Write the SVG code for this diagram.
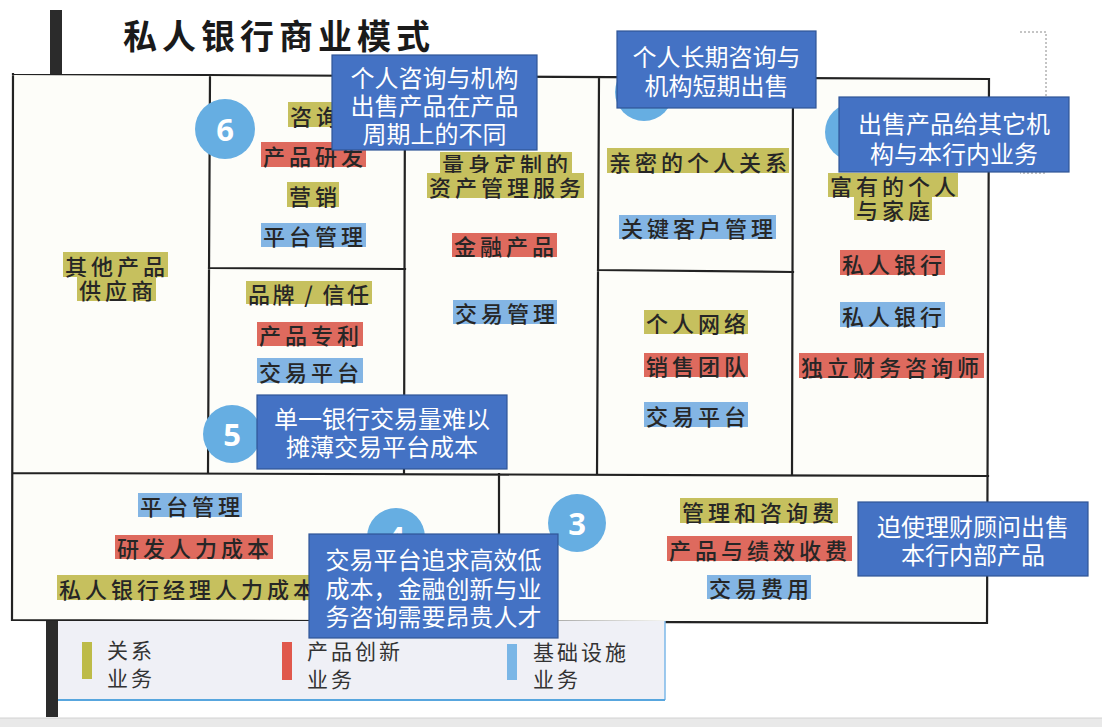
<svg xmlns="http://www.w3.org/2000/svg" width="1102" height="727" viewBox="0 0 1102 727">
<style>
.t{font-family:"Noto Sans CJK SC","Noto Sans",sans-serif;font-size:22px;letter-spacing:4px;fill:#262626;dominant-baseline:central;font-weight:500}
.o{fill:#c6c05e}
.r{fill:#de6a5e}
.b{fill:#83b5e4}
.ln{stroke:#222;stroke-width:2.2;fill:none;stroke-linecap:square}
.cir{fill:#66aee2}
.num{font-family:"Open Sans","Liberation Sans",sans-serif;font-size:31px;font-weight:700;fill:#fff;text-anchor:middle;dominant-baseline:central}
.cb{fill:#4472c4;stroke:#2f5597;stroke-width:1.2}
.ct{font-family:"Noto Sans CJK SC","Noto Sans",sans-serif;font-size:24px;fill:#fff;text-anchor:middle;dominant-baseline:central}
.lg{font-family:"Noto Sans CJK SC","Noto Sans",sans-serif;font-size:21px;letter-spacing:3px;fill:#333;dominant-baseline:central}
</style>
<rect width="1102" height="727" fill="#ffffff"/>
<rect x="0" y="718" width="1102" height="9" fill="#e9e9e9"/>
<line x1="0" y1="718" x2="1102" y2="718" stroke="#d2d2d2" stroke-width="1"/>

<g id="title">
<rect x="50" y="10" width="12" height="64" fill="#2b2b2b"/>
<text x="123" y="34" font-family="Noto Sans CJK SC, sans-serif" font-size="34" font-weight="700" letter-spacing="5" fill="#1a1a1a" dominant-baseline="central">私人银行商业模式</text>
</g>

<g id="canvas">
<polygon points="13,74 989,79 987,623 12,620" fill="#fdfdf9"/>
<path class="ln" d="M13,74 L989,79 M13,473 L988,476 M12,620 L987,623 M13,74 L12,620 M210,75 L208,473 M405,76 L404,474 M599,77 L597,475 M793,78 L792,475 M989,79 L987,623 M209,268 L405,269 M598,270 L793,272 M499,474 L499,621"/>
</g>

<g id="legend">
<rect x="58" y="621" width="607" height="79" fill="#eff0f6"/>
<line x1="665" y1="621" x2="665" y2="700" stroke="#7db9e8" stroke-width="1.5"/>
<line x1="58" y1="700" x2="665" y2="700" stroke="#58a6de" stroke-width="2"/>
<rect x="46" y="621" width="12" height="96" fill="#2b2b2b"/>
<rect x="82" y="642" width="10" height="37" fill="#bdbb48"/>
<text class="lg" x="107" y="649">关系</text>
<text class="lg" x="107" y="677">业务</text>
<rect x="282" y="642" width="10" height="38" fill="#e0584c"/>
<text class="lg" x="307" y="650">产品创新</text>
<text class="lg" x="307" y="678">业务</text>
<rect x="507" y="644" width="10" height="36" fill="#7ab6e6"/>
<text class="lg" x="533" y="651">基础设施</text>
<text class="lg" x="533" y="678">业务</text>
</g>

<g id="key-partners">
<rect class="o" x="63" y="252" width="105" height="25"/><text class="t" x="65" y="264.5">其他产品</text>
<rect class="o" x="77" y="277" width="79" height="24"/><text class="t" x="79" y="289">供应商</text>
</g>

<g id="key-activities">
<circle class="cir" cx="225" cy="129" r="30"/><text class="num" x="225" y="129">6</text>
<rect class="o" x="288" y="102" width="60" height="25"/><text class="t" x="290" y="114.5">咨询</text>
<rect class="r" x="261" y="142" width="105" height="25"/><text class="t" x="263" y="154.5">产品研发</text>
<rect class="o" x="287" y="182" width="52" height="25"/><text class="t" x="289" y="194.5">营销</text>
<rect class="b" x="261" y="223" width="105" height="24"/><text class="t" x="263" y="235">平台管理</text>
</g>

<g id="key-resources">
<rect class="o" x="246" y="281" width="126" height="23"/><text class="t" x="248" y="292.5" style="letter-spacing:0" textLength="121" lengthAdjust="spacing">品牌 / 信任</text>
<rect class="r" x="257" y="322" width="106" height="24"/><text class="t" x="259" y="334">产品专利</text>
<rect class="b" x="257" y="358" width="106" height="25"/><text class="t" x="259" y="370.5">交易平台</text>
<circle class="cir" cx="232" cy="434" r="29"/><text class="num" x="232" y="434">5</text>
</g>

<g id="value-proposition">
<rect class="o" x="440" y="152" width="132" height="22"/><text class="t" x="442" y="163">量身定制的</text>
<rect class="o" x="427" y="173" width="157" height="25"/><text class="t" x="429" y="185.5">资产管理服务</text>
<rect class="r" x="452" y="233" width="105" height="24"/><text class="t" x="454" y="245">金融产品</text>
<rect class="b" x="453" y="300" width="104" height="24"/><text class="t" x="455" y="312">交易管理</text>
</g>

<g id="customer-relationships">
<circle class="cir" cx="644" cy="92" r="29"/>
<rect class="o" x="607" y="148" width="182" height="25"/><text class="t" x="609" y="160.5">亲密的个人关系</text>
<rect class="b" x="619" y="215" width="157" height="24"/><text class="t" x="621" y="227">关键客户管理</text>
</g>

<g id="channels">
<rect class="o" x="644" y="310" width="104" height="24"/><text class="t" x="646" y="322">个人网络</text>
<rect class="r" x="644" y="353" width="104" height="24"/><text class="t" x="646" y="365">销售团队</text>
<rect class="b" x="644" y="402" width="104" height="25"/><text class="t" x="646" y="414.5">交易平台</text>
</g>

<g id="customer-segments">
<circle class="cir" cx="854" cy="132" r="29"/>
<rect class="o" x="828" y="173" width="130" height="24"/><text class="t" x="830" y="185">富有的个人</text>
<rect class="o" x="854" y="197" width="78" height="23"/><text class="t" x="856" y="208.5">与家庭</text>
<rect class="r" x="840" y="250" width="105" height="25"/><text class="t" x="842" y="262.5">私人银行</text>
<rect class="b" x="840" y="302" width="105" height="25"/><text class="t" x="842" y="314.5">私人银行</text>
<rect class="r" x="799" y="353" width="185" height="25"/><text class="t" x="801" y="365.5">独立财务咨询师</text>
</g>

<g id="cost-structure">
<rect class="b" x="138" y="493" width="104" height="24"/><text class="t" x="140" y="505">平台管理</text>
<rect class="r" x="115" y="535" width="158" height="24"/><text class="t" x="117" y="547">研发人力成本</text>
<rect class="o" x="57" y="575" width="262" height="25"/><text class="t" x="59" y="587.5">私人银行经理人力成本</text>
<circle class="cir" cx="396" cy="537" r="29"/><text class="num" x="396" y="537">4</text>
</g>

<g id="revenue-streams">
<circle class="cir" cx="577" cy="523" r="29"/><text class="num" x="577" y="523">3</text>
<rect class="o" x="680" y="498" width="158" height="25"/><text class="t" x="682" y="510.5">管理和咨询费</text>
<rect class="r" x="667" y="536" width="185" height="25"/><text class="t" x="669" y="548.5">产品与绩效收费</text>
<rect class="b" x="707" y="575" width="104" height="24"/><text class="t" x="709" y="587">交易费用</text>
</g>

<g id="connectors">
<path d="M1020,32 H1046 V173 H1020" fill="none" stroke="#8a8a8a" stroke-width="1" stroke-dasharray="2,2"/>
</g>

<g id="note-cycle">
<rect class="cb" x="332" y="55" width="205" height="95"/>
<text class="ct" x="434.5" y="76">个人咨询与机构</text>
<text class="ct" x="434.5" y="104">出售产品在产品</text>
<text class="ct" x="434.5" y="132">周期上的不同</text>
</g>
<g id="note-longterm">
<rect class="cb" x="617" y="31" width="199" height="77"/>
<text class="ct" x="716.5" y="55">个人长期咨询与</text>
<text class="ct" x="716.5" y="84">机构短期出售</text>
</g>
<g id="note-sell">
<rect class="cb" x="839" y="97" width="230" height="75"/>
<text class="ct" x="954" y="122">出售产品给其它机</text>
<text class="ct" x="954" y="152">构与本行内业务</text>
</g>
<g id="note-volume">
<rect class="cb" x="257" y="395" width="250" height="74"/>
<text class="ct" x="382" y="417">单一银行交易量难以</text>
<text class="ct" x="382" y="445">摊薄交易平台成本</text>
</g>
<g id="note-cost">
<rect class="cb" x="309" y="534" width="249" height="104"/>
<text class="ct" x="433.5" y="558">交易平台追求高效低</text>
<text class="ct" x="433.5" y="587">成本，金融创新与业</text>
<text class="ct" x="433.5" y="615">务咨询需要昂贵人才</text>
</g>
<g id="note-advisor">
<rect class="cb" x="858" y="502" width="230" height="74"/>
<text class="ct" x="973" y="525">迫使理财顾问出售</text>
<text class="ct" x="973" y="553">本行内部产品</text>
</g>
</svg>
